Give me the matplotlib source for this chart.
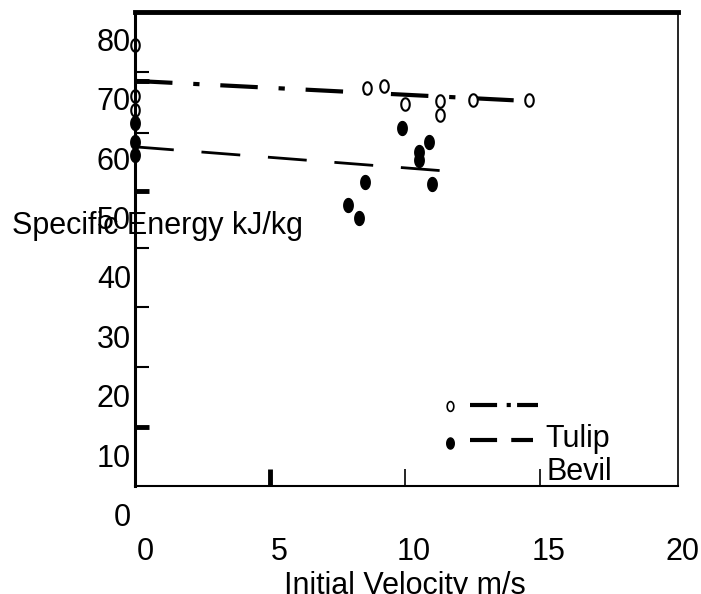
import numpy as np
import matplotlib
matplotlib.use("Agg")
import matplotlib.pyplot as plt
from matplotlib.path import Path

plt.rcParams['font.family'] = ['Liberation Sans', 'DejaVu Sans']

# Data
tulip_x = [0, 0, 0, 8.6, 9.2, 10.0, 11.3, 11.3, 12.5, 14.6]
tulip_y = [79.8, 71.2, 68.8, 72.5, 72.8, 69.8, 70.3, 68.0, 70.5, 70.5]
bevil_x = [0, 0, 0, 7.9, 8.3, 8.5, 9.9, 10.5, 10.5, 10.9, 11.0]
bevil_y = [66.6, 63.4, 61.2, 52.8, 50.6, 56.7, 65.8, 61.7, 60.4, 63.4, 56.3]
tulip_fit_x = [0, 14.6]
tulip_fit_y = [73.7, 70.3]
bevil_fit_x = [0, 11.3]
bevil_fit_y = [62.6, 58.6]

xtick_labels = ["0", "5", "10", "15", "20"]
ytick_labels = ["0", "10", "20", "30", "40", "50", "60", "70", "80"]

FS = 22
W, H = 701, 594
fig = plt.figure(figsize=(W/100, H/100), dpi=100)
ax = fig.add_axes([135/W, 1-486/H, (678-135)/W, (486-12)/H])
ax.set_xlim(0, 20.1)
ax.set_ylim(5.5, 85.3)

# ellipse marker
t = np.linspace(0, 2*np.pi, 40)
ell = Path(np.column_stack([0.34*np.cos(t), 0.5*np.sin(t)]), closed=True)

ax.plot(tulip_fit_x, tulip_fit_y, color='black', lw=3,
        linestyle=(0, (9, 5, 1.5, 5)), solid_capstyle='butt', clip_on=False)
ax.plot(bevil_fit_x, bevil_fit_y, color='black', lw=2,
        linestyle=(0, (14, 10)), clip_on=False)
ax.plot(tulip_x, tulip_y, linestyle='none', marker=ell, ms=9, mfc='white',
        mec='black', mew=1.5, clip_on=False)
ax.plot(bevil_x, bevil_y, linestyle='none', marker=ell, ms=10, mfc='black',
        mec='black', clip_on=False)

# legend drawn inside
ax.plot([11.67], [18.9], linestyle='none', marker=ell, ms=7, mfc='white', mec='black', mew=1.2)
ax.plot([11.67], [12.8], linestyle='none', marker=ell, ms=8, mfc='black', mec='black')
ax.plot([12.4, 14.9], [19.1, 19.1], color='black', lw=3, linestyle=(0, (6.5, 2.3, 1, 1.5)))
ax.plot([12.4, 14.75], [13.3, 13.3], color='black', lw=3, linestyle=(0, (6.5, 3.4)))
ax.text(15.2, 13.4, "Tulip", fontsize=FS, va='center', ha='left')
ax.text(15.25, 7.9, "Bevil", fontsize=FS, va='center', ha='left')

# spines
ax.spines['left'].set_linewidth(2.2)
ax.spines['top'].set_linewidth(3.5)
ax.spines['bottom'].set_linewidth(1.5)
ax.spines['right'].set_linewidth(1.2)

# ticks (no labels)
ax.set_yticks([73.7, 55.1, 15.5])
ax.set_yticks([75.2, 64.9, 45.5, 35.6, 25.5], minor=True)
ax.set_xticks([5])
ax.set_xticks([10, 15], minor=True)
ax.tick_params(axis='y', which='major', direction='in', length=10, width=3.5, labelleft=False)
ax.tick_params(axis='y', which='minor', direction='in', length=10, width=1.5, labelleft=False)
ax.tick_params(axis='x', which='major', direction='in', length=12, width=3.5, labelbottom=False)
ax.tick_params(axis='x', which='minor', direction='in', length=12, width=1.2, labelbottom=False)

# tick labels as text, placed on the label grid
for i, lab in enumerate(ytick_labels):
    v = i * 10
    ax.text(-0.15, v + 0.1, lab, fontsize=FS, ha='right', va='center', clip_on=False)
for i, lab in enumerate(xtick_labels):
    v = i * 5
    ax.text(0.37 + v * 0.995, -5.6, lab, fontsize=FS, ha='center', va='center', clip_on=False)

ax.text(-4.55, 49.3, "Specific Energy kJ/kg", fontsize=FS, ha='left', va='center', clip_on=False)
ax.text(10.0, -11.3, "Initial Velocity m/s", fontsize=FS, ha='center', va='center', clip_on=False)

fig.savefig("out.png", dpi=100)
